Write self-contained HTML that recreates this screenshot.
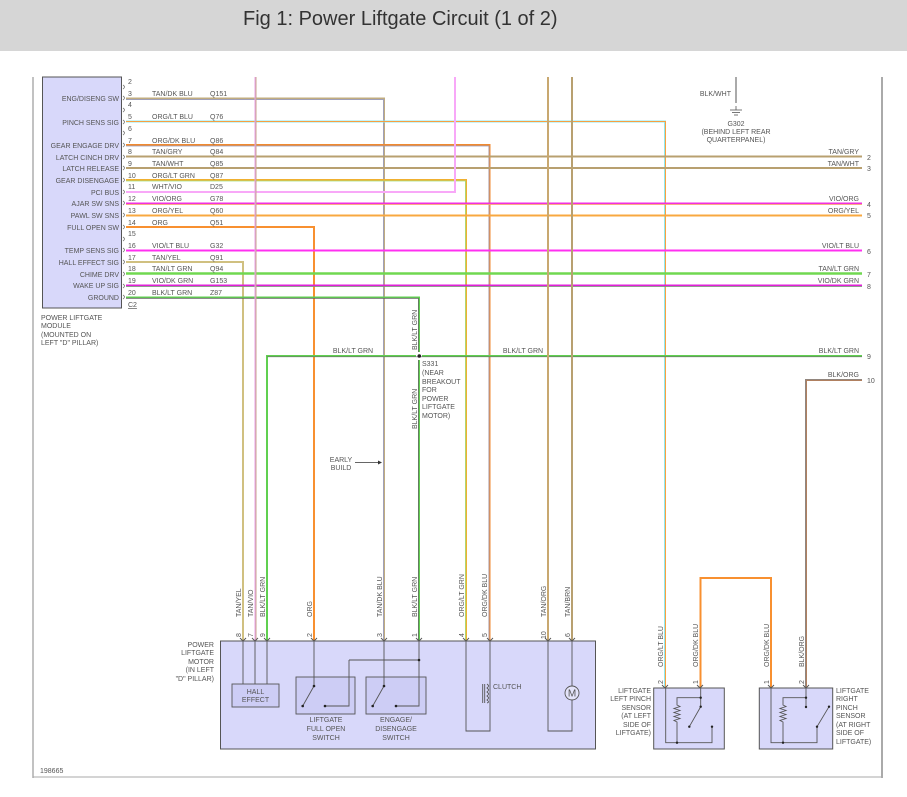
<!DOCTYPE html>
<html><head><meta charset="utf-8"><style>
html,body{margin:0;padding:0;background:#fff;width:907px;height:797px;overflow:hidden}
svg{display:block}
text{font-family:"Liberation Sans",sans-serif;font-size:7px;fill:#555}
.hdr{font-size:20px;fill:#333}
</style></head><body>
<svg width="907" height="797" viewBox="0 0 907 797" xmlns="http://www.w3.org/2000/svg">
<rect x="0" y="0" width="907" height="51" fill="#d6d6d6"/>
<text x="243" y="25" class="hdr">Fig 1: Power Liftgate Circuit (1 of 2)</text>
<!-- frame -->
<line x1="33" y1="77" x2="33" y2="778" stroke="#999" stroke-width="1.2"/>
<line x1="882" y1="77" x2="882" y2="778" stroke="#555" stroke-width="1"/>
<line x1="33" y1="777" x2="882" y2="777" stroke="#aaa" stroke-width="1"/>

<!-- module -->
<rect x="42.5" y="77" width="79" height="231" fill="#d8d8fa" stroke="#555" stroke-width="1"/>
<g text-anchor="end">
<text x="119" y="101">ENG/DISENG SW</text>
<text x="119" y="125">PINCH SENS SIG</text>
<text x="119" y="148">GEAR ENGAGE DRV</text>
<text x="119" y="160">LATCH CINCH DRV</text>
<text x="119" y="171">LATCH RELEASE</text>
<text x="119" y="183">GEAR DISENGAGE</text>
<text x="119" y="195">PCI BUS</text>
<text x="119" y="206">AJAR SW SNS</text>
<text x="119" y="218">PAWL SW SNS</text>
<text x="119" y="230">FULL OPEN SW</text>
<text x="119" y="253">TEMP SENS SIG</text>
<text x="119" y="265">HALL EFFECT SIG</text>
<text x="119" y="277">CHIME DRV</text>
<text x="119" y="288">WAKE UP SIG</text>
<text x="119" y="300">GROUND</text>
</g>
<text x="41" y="320">POWER LIFTGATE</text>
<text x="41" y="328">MODULE</text>
<text x="41" y="337">(MOUNTED ON</text>
<text x="41" y="345">LEFT "D" PILLAR)</text>
<g>
<text x="128" y="84">2</text><text x="128" y="96">3</text><text x="128" y="107">4</text><text x="128" y="119">5</text><text x="128" y="131">6</text><text x="128" y="143">7</text><text x="128" y="154">8</text><text x="128" y="166">9</text><text x="128" y="178">10</text><text x="128" y="189">11</text><text x="128" y="201">12</text><text x="128" y="213">13</text><text x="128" y="225">14</text><text x="128" y="236">15</text><text x="128" y="248">16</text><text x="128" y="260">17</text><text x="128" y="271">18</text><text x="128" y="283">19</text><text x="128" y="295">20</text>
<text x="128" y="307" text-decoration="underline">C2</text>
</g>
<!-- connector brackets -->
<g fill="none" stroke="#777" stroke-width="0.8">
<path d="M123 85 q3 2 0 4"/><path d="M123 96 q3 2 0 4"/><path d="M123 108 q3 2 0 4"/><path d="M123 120 q3 2 0 4"/><path d="M123 131 q3 2 0 4"/><path d="M123 143 q3 2 0 4"/><path d="M123 155 q3 2 0 4"/><path d="M123 166 q3 2 0 4"/><path d="M123 178 q3 2 0 4"/><path d="M123 190 q3 2 0 4"/><path d="M123 201 q3 2 0 4"/><path d="M123 213 q3 2 0 4"/><path d="M123 225 q3 2 0 4"/><path d="M123 237 q3 2 0 4"/><path d="M123 248 q3 2 0 4"/><path d="M123 260 q3 2 0 4"/><path d="M123 272 q3 2 0 4"/><path d="M123 284 q3 2 0 4"/><path d="M123 295 q3 2 0 4"/>
</g>

<!-- wires -->
<g fill="none" stroke-width="2">
<polyline points="0,0" stroke="none"/>
<!-- pin 3 TAN/DK BLU -->
<polyline points="126,98.5 384,98.5 384,641" stroke="#c0ac80"/><polyline points="126,99.5 383.5,99.5 383.5,641" stroke="#a0a0b8" stroke-width="1"/>
<!-- pin 5 ORG/LT BLU -->
<polyline points="126,121.5 665,121.5 665,688" stroke="#8ee8f0"/><polyline points="126,121.5 665.5,121.5 665.5,688" stroke="#f8a040" stroke-width="1"/>
<!-- pin 7 ORG/DK BLU -->
<polyline points="126,145 489.5,145 489.5,641" stroke="#f08a30"/><polyline points="126,146 489,146 489,641" stroke="#9a9ab8" stroke-width="0.8"/>
<!-- pin 8,9 tan -->
<line x1="126" y1="156.5" x2="862" y2="156.5" stroke="#b8a070"/>
<line x1="126" y1="168" x2="862" y2="168" stroke="#b8a070"/>
<!-- pin 10 ORG/LT GRN -->
<polyline points="126,180 466,180 466,641" stroke="#f0b030"/><polyline points="126,181 465.5,181 465.5,641" stroke="#a0e080" stroke-width="0.8"/>
<!-- pin 11 WHT/VIO -->
<polyline points="126,192 455,192 455,77" stroke="#f8a8f8"/>
<!-- pin 12 VIO/ORG -->
<line x1="126" y1="203.5" x2="862" y2="203.5" stroke="#f030e0"/><line x1="126" y1="204.5" x2="862" y2="204.5" stroke="#f8b060" stroke-width="0.8"/>
<!-- pin 13 ORG/YEL -->
<line x1="126" y1="215.5" x2="862" y2="215.5" stroke="#f8a840"/>
<!-- pin 14 ORG -->
<polyline points="126,227 314,227 314,641" stroke="#f89030"/>
<!-- pin 16 VIO/LT BLU -->
<line x1="126" y1="250.5" x2="862" y2="250.5" stroke="#ff30f0"/>
<!-- pin 17 TAN/YEL -->
<polyline points="126,262 243,262 243,641" stroke="#d0c080"/>
<!-- pin 18 TAN/LT GRN -->
<line x1="126" y1="273.5" x2="862" y2="273.5" stroke="#70d850" stroke-width="2.4"/>
<!-- pin 19 VIO/DK GRN -->
<line x1="126" y1="285.5" x2="862" y2="285.5" stroke="#e020d8"/><line x1="126" y1="286.5" x2="862" y2="286.5" stroke="#70a070" stroke-width="0.8"/>
<!-- pin 20 BLK/LT GRN -->
<polyline points="126,297.5 419,297.5 419,352" stroke="#60d050"/><polyline points="126,298.3 418.5,298.3 418.5,352" stroke="#666" stroke-width="0.8"/>
<polyline points="419,360 419,641" stroke="#60d050"/><line x1="418.5" y1="360" x2="418.5" y2="641" stroke="#666" stroke-width="0.8"/>
<!-- S331 horizontal -->
<polyline points="267,641 267,356 416,356" stroke="#60d050"/><polyline points="422,356 862,356" stroke="#60d050"/>
<line x1="267" y1="356.8" x2="862" y2="356.8" stroke="#666" stroke-width="0.6"/>
<!-- TAN/VIO pink vertical -->
<line x1="255.5" y1="77" x2="255.5" y2="641" stroke="#e8a0e8"/><line x1="256" y1="77" x2="256" y2="641" stroke="#c0a878" stroke-width="0.8"/>
<!-- tan verticals -->
<line x1="548" y1="77" x2="548" y2="641" stroke="#c8a870"/>
<line x1="572" y1="77" x2="572" y2="641" stroke="#b8a070"/>
<!-- BLK/ORG -->
<polyline points="862,380 806,380 806,688" stroke="#b08060"/><polyline points="862,379.5 805.5,379.5 805.5,688" stroke="#888" stroke-width="0.8"/>
<!-- sensor link ORG/DK BLU -->
<polyline points="700.5,688 700.5,578 771,578 771,688" stroke="#f89030"/>
<!-- BLK/WHT -->
<line x1="736" y1="77" x2="736" y2="103" stroke="#555" stroke-width="1"/>
</g>
<circle cx="419.3" cy="356" r="1.8" fill="#222"/>
<!-- ground -->
<g stroke="#555" stroke-width="0.8">
<line x1="736" y1="106" x2="736" y2="110"/><line x1="730" y1="110" x2="742" y2="110"/><line x1="732" y1="112.5" x2="740" y2="112.5"/><line x1="734" y1="115" x2="738" y2="115"/>
</g>
<text x="731" y="96" text-anchor="end">BLK/WHT</text>
<text x="736" y="126" text-anchor="middle">G302</text>
<text x="736" y="134" text-anchor="middle">(BEHIND LEFT REAR</text>
<text x="736" y="142" text-anchor="middle">QUARTERPANEL)</text>

<!-- wire labels along horizontals -->
<g>
<text x="152" y="96">TAN/DK BLU</text><text x="210" y="96">Q151</text>
<text x="152" y="119">ORG/LT BLU</text><text x="210" y="119">Q76</text>
<text x="152" y="143">ORG/DK BLU</text><text x="210" y="143">Q86</text>
<text x="152" y="154">TAN/GRY</text><text x="210" y="154">Q84</text>
<text x="152" y="166">TAN/WHT</text><text x="210" y="166">Q85</text>
<text x="152" y="178">ORG/LT GRN</text><text x="210" y="178">Q87</text>
<text x="152" y="189">WHT/VIO</text><text x="210" y="189">D25</text>
<text x="152" y="201">VIO/ORG</text><text x="210" y="201">G78</text>
<text x="152" y="213">ORG/YEL</text><text x="210" y="213">Q60</text>
<text x="152" y="225">ORG</text><text x="210" y="225">Q51</text>
<text x="152" y="248">VIO/LT BLU</text><text x="210" y="248">G32</text>
<text x="152" y="260">TAN/YEL</text><text x="210" y="260">Q91</text>
<text x="152" y="271">TAN/LT GRN</text><text x="210" y="271">Q94</text>
<text x="152" y="283">VIO/DK GRN</text><text x="210" y="283">G153</text>
<text x="152" y="295">BLK/LT GRN</text><text x="210" y="295">Z87</text>
</g>
<g text-anchor="end">
<text x="859" y="154">TAN/GRY</text><text x="859" y="166">TAN/WHT</text>
<text x="859" y="201">VIO/ORG</text><text x="859" y="213">ORG/YEL</text>
<text x="859" y="248">VIO/LT BLU</text><text x="859" y="271">TAN/LT GRN</text>
<text x="859" y="283">VIO/DK GRN</text><text x="859" y="353">BLK/LT GRN</text>
<text x="859" y="377">BLK/ORG</text>
</g>
<g>
<text x="867" y="160">2</text><text x="867" y="171">3</text><text x="867" y="207">4</text><text x="867" y="218">5</text><text x="867" y="254">6</text><text x="867" y="277">7</text><text x="867" y="289">8</text><text x="867" y="359">9</text><text x="867" y="383">10</text>
</g>
<text x="353" y="353" text-anchor="middle">BLK/LT GRN</text>
<text x="523" y="353" text-anchor="middle">BLK/LT GRN</text>
<text transform="translate(417,350) rotate(-90)">BLK/LT GRN</text>
<text transform="translate(417,429) rotate(-90)">BLK/LT GRN</text>
<g><text x="422" y="366">S331</text><text x="422" y="375">(NEAR</text><text x="422" y="384">BREAKOUT</text><text x="422" y="392">FOR</text><text x="422" y="401">POWER</text><text x="422" y="409">LIFTGATE</text><text x="422" y="418">MOTOR)</text></g>
<text x="341" y="462" text-anchor="middle">EARLY</text><text x="341" y="470" text-anchor="middle">BUILD</text>
<line x1="355" y1="462.5" x2="379" y2="462.5" stroke="#333" stroke-width="0.8"/><polygon points="382,462.5 378,460.5 378,464.5" fill="#333"/>

<!-- motor box -->
<rect x="220.5" y="641" width="375" height="108" fill="#d8d8fa" stroke="#555" stroke-width="1"/>
<g text-anchor="end"><text x="214" y="647">POWER</text><text x="214" y="655">LIFTGATE</text><text x="214" y="664">MOTOR</text><text x="214" y="672">(IN LEFT</text><text x="214" y="681">"D" PILLAR)</text></g>
<!-- rotated wire labels & pin numbers -->
<g>
<text transform="translate(241,617) rotate(-90)">TAN/YEL</text>
<text transform="translate(253,617) rotate(-90)">TAN/VIO</text>
<text transform="translate(265,617) rotate(-90)">BLK/LT GRN</text>
<text transform="translate(312,617) rotate(-90)">ORG</text>
<text transform="translate(382,617) rotate(-90)">TAN/DK BLU</text>
<text transform="translate(417,617) rotate(-90)">BLK/LT GRN</text>
<text transform="translate(464,617) rotate(-90)">ORG/LT GRN</text>
<text transform="translate(487,617) rotate(-90)">ORG/DK BLU</text>
<text transform="translate(546,617) rotate(-90)">TAN/ORG</text>
<text transform="translate(570,617) rotate(-90)">TAN/BRN</text>
<text transform="translate(241,637) rotate(-90)">8</text>
<text transform="translate(253,637) rotate(-90)">7</text>
<text transform="translate(265,637) rotate(-90)">9</text>
<text transform="translate(312,637) rotate(-90)">2</text>
<text transform="translate(382,637) rotate(-90)">3</text>
<text transform="translate(417,637) rotate(-90)">1</text>
<text transform="translate(464,637) rotate(-90)">4</text>
<text transform="translate(487,637) rotate(-90)">5</text>
<text transform="translate(546,639) rotate(-90)">10</text>
<text transform="translate(570,637) rotate(-90)">6</text>
<text transform="translate(663,667) rotate(-90)">ORG/LT BLU</text>
<text transform="translate(698,667) rotate(-90)">ORG/DK BLU</text>
<text transform="translate(769,667) rotate(-90)">ORG/DK BLU</text>
<text transform="translate(804,667) rotate(-90)">BLK/ORG</text>
<text transform="translate(663,684) rotate(-90)">2</text>
<text transform="translate(698,684) rotate(-90)">1</text>
<text transform="translate(769,684) rotate(-90)">1</text>
<text transform="translate(804,684) rotate(-90)">2</text>
</g>
<!-- internals -->
<g fill="none" stroke="#555" stroke-width="0.9">
<path d="M240 638 l3 3 l3 -3 M252 638 l3 3 l3 -3 M264 638 l3 3 l3 -3 M311 638 l3 3 l3 -3 M381 638 l3 3 l3 -3 M416 638 l3 3 l3 -3 M463 638 l3 3 l3 -3 M487 638 l3 3 l3 -3 M545 638 l3 3 l3 -3 M569 638 l3 3 l3 -3 M662 685 l3 3 l3 -3 M697 685 l3 3 l3 -3 M768 685 l3 3 l3 -3 M803 685 l3 3 l3 -3"/>
<path d="M243 641 V684 M255 641 V684 M267 641 V684"/>
<rect x="232" y="684" width="47" height="23" fill="#cdcdf5"/>
<rect x="296" y="677" width="59" height="37" fill="#cdcdf5"/>
<rect x="366" y="677" width="60" height="37" fill="#cdcdf5"/>
<path d="M314 641 V686 L302.7 706"/>
<path d="M349 660 H419 M349 660 V706 H325"/>
<path d="M384 641 V686 L372.7 706"/>
<path d="M419 641 V706 H396"/>
<path d="M466 641 V731 H490 V641"/>
<path d="M548 641 V731 H572 V641"/>
<path d="M482.7 684 V703 M484.7 684 V703"/>
<path d="M487 684 q3 2 0 4 q3 2 0 4 q3 2 0 4 q3 2 0 4 q3 2 0 3"/>
</g>
<g fill="#222"><circle cx="419" cy="660" r="1.3"/><circle cx="314" cy="686" r="1.3"/><circle cx="302.7" cy="706" r="1.3"/><circle cx="325" cy="706" r="1.3"/><circle cx="384" cy="686" r="1.3"/><circle cx="372.7" cy="706" r="1.3"/><circle cx="396" cy="706" r="1.3"/></g>
<circle cx="572" cy="693" r="7" fill="#e4e4fa" stroke="#555" stroke-width="0.9"/>
<text x="572" y="696.5" text-anchor="middle" style="font-size:10px">M</text>
<text x="255.5" y="694" text-anchor="middle">HALL</text><text x="255.5" y="702" text-anchor="middle">EFFECT</text>
<text x="326" y="722" text-anchor="middle">LIFTGATE</text><text x="326" y="731" text-anchor="middle">FULL OPEN</text><text x="326" y="740" text-anchor="middle">SWITCH</text>
<text x="396" y="722" text-anchor="middle">ENGAGE/</text><text x="396" y="731" text-anchor="middle">DISENGAGE</text><text x="396" y="740" text-anchor="middle">SWITCH</text>
<text x="493" y="689">CLUTCH</text>

<!-- sensors -->
<rect x="653.7" y="688" width="70.6" height="61" fill="#d8d8fa" stroke="#555" stroke-width="1"/>
<rect x="759.3" y="688" width="73.4" height="61" fill="#d8d8fa" stroke="#555" stroke-width="1"/>
<g fill="none" stroke="#555" stroke-width="0.9">
<path d="M665.7 688 V742.7 H712 V726.7"/>
<path d="M700.7 688 V697.7 H677 V705 l3 1.5 l-6 2 l6 2 l-6 2 l6 2 l-6 2 l6 2 l-6 2 l3 1.5 V742.7"/>
<path d="M700.7 697.7 V706.7 L689.3 726.7"/>
<path d="M771 688 V742.7 H817 V726.7 L829 706.7"/>
<path d="M806 688 V707"/>
<path d="M806 697.7 H783 V705 l3 1.5 l-6 2 l6 2 l-6 2 l6 2 l-6 2 l6 2 l-6 2 l3 1.5 V742.7"/>
</g>
<g fill="#222"><circle cx="700.7" cy="697.7" r="1.2"/><circle cx="700.7" cy="706.7" r="1.2"/><circle cx="689.3" cy="726.7" r="1.2"/><circle cx="712" cy="726.7" r="1.2"/><circle cx="677" cy="742.7" r="1.2"/><circle cx="806" cy="697.7" r="1.2"/><circle cx="806" cy="707" r="1.2"/><circle cx="817" cy="726.7" r="1.2"/><circle cx="829" cy="706.7" r="1.2"/><circle cx="783" cy="742.7" r="1.2"/></g>
<g text-anchor="end"><text x="651" y="693">LIFTGATE</text><text x="651" y="701">LEFT PINCH</text><text x="651" y="710">SENSOR</text><text x="651" y="718">(AT LEFT</text><text x="651" y="727">SIDE OF</text><text x="651" y="735">LIFTGATE)</text></g>
<g><text x="836" y="693">LIFTGATE</text><text x="836" y="701">RIGHT</text><text x="836" y="710">PINCH</text><text x="836" y="718">SENSOR</text><text x="836" y="727">(AT RIGHT</text><text x="836" y="735">SIDE OF</text><text x="836" y="744">LIFTGATE)</text></g>
<text x="40" y="773">198665</text>
</svg>
</body></html>
